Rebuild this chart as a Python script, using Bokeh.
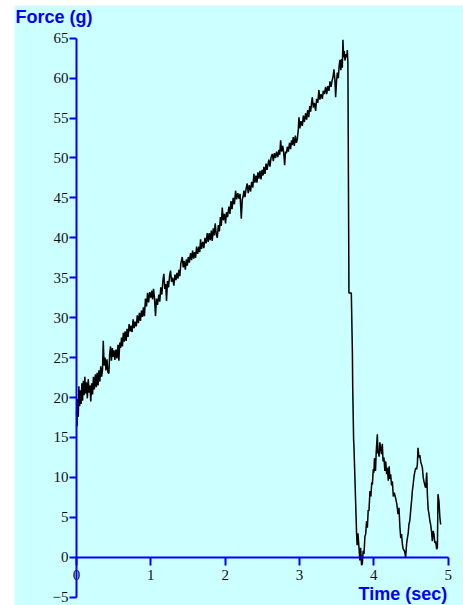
from bokeh.plotting import figure
from bokeh.models import Range1d, SingleIntervalTicker, Label
from bokeh.embed import file_html
from bokeh.resources import INLINE

# Force trace: time in seconds, force in grams
time_s = [
    0.000, 0.008, 0.016, 0.024, 0.032, 0.042, 0.052, 0.062, 0.072, 0.082,
    0.092, 0.102, 0.112, 0.122, 0.134, 0.146, 0.158, 0.170, 0.182, 0.192,
    0.204, 0.216, 0.228, 0.240, 0.254, 0.266, 0.278, 0.290, 0.302, 0.314,
    0.326, 0.338, 0.350, 0.360, 0.372, 0.384, 0.396, 0.410, 0.422, 0.436,
    0.446, 0.458, 0.470, 0.482, 0.494, 0.504, 0.516, 0.530, 0.544, 0.558,
    0.570, 0.582, 0.594, 0.606, 0.618, 0.630, 0.642, 0.654, 0.668, 0.680,
    0.694, 0.708, 0.720, 0.734, 0.748, 0.762, 0.776, 0.790, 0.804, 0.818,
    0.832, 0.846, 0.860, 0.874, 0.888, 0.900, 0.914, 0.928, 0.942, 0.956,
    0.970, 0.984, 1.000, 1.012, 1.024, 1.036, 1.048, 1.063, 1.076, 1.090,
    1.108, 1.120, 1.134, 1.148, 1.162, 1.175, 1.188, 1.200, 1.211, 1.224,
    1.238, 1.252, 1.265, 1.278, 1.292, 1.310, 1.324, 1.338, 1.352, 1.366,
    1.377, 1.390, 1.404, 1.423, 1.436, 1.450, 1.464, 1.478, 1.490, 1.504,
    1.518, 1.534, 1.548, 1.562, 1.576, 1.590, 1.602, 1.616, 1.630, 1.646,
    1.658, 1.669, 1.682, 1.698, 1.713, 1.728, 1.744, 1.759, 1.772, 1.786,
    1.800, 1.814, 1.826, 1.840, 1.852, 1.866, 1.880, 1.894, 1.908, 1.922,
    1.936, 1.948, 1.961, 1.974, 1.990, 2.005, 2.018, 2.032, 2.050, 2.064,
    2.078, 2.092, 2.108, 2.124, 2.140, 2.154, 2.170, 2.184, 2.200, 2.217,
    2.230, 2.242, 2.252, 2.266, 2.282, 2.297, 2.310, 2.326, 2.342, 2.356,
    2.372, 2.386, 2.400, 2.414, 2.428, 2.440, 2.454, 2.468, 2.482, 2.496,
    2.510, 2.521, 2.536, 2.550, 2.564, 2.578, 2.588, 2.602, 2.618, 2.634,
    2.648, 2.662, 2.678, 2.692, 2.708, 2.723, 2.734, 2.746, 2.760, 2.774,
    2.788, 2.800, 2.812, 2.824, 2.836, 2.850, 2.866, 2.880, 2.893, 2.903,
    2.916, 2.930, 2.944, 2.958, 2.970, 2.984, 2.992, 3.004, 3.020, 3.038,
    3.052, 3.066, 3.082, 3.096, 3.110, 3.124, 3.138, 3.150, 3.162, 3.172,
    3.186, 3.200, 3.217, 3.230, 3.246, 3.261, 3.274, 3.290, 3.307, 3.320,
    3.336, 3.351, 3.366, 3.380, 3.396, 3.410, 3.424, 3.441, 3.452, 3.463,
    3.476, 3.486, 3.498, 3.509, 3.522, 3.534, 3.544, 3.556, 3.566, 3.576,
    3.584, 3.594, 3.602, 3.612, 3.624, 3.636, 3.643, 3.651, 3.655, 3.661,
    3.665, 3.697, 3.711, 3.716, 3.728, 3.732, 3.768, 3.775, 3.786, 3.800,
    3.812, 3.822, 3.835, 3.845, 3.856, 3.867, 3.880, 3.890, 3.902, 3.913,
    3.924, 3.934, 3.948, 3.960, 3.972, 3.980, 3.992, 4.001, 4.008, 4.015,
    4.022, 4.032, 4.047, 4.054, 4.060, 4.070, 4.080, 4.091, 4.102, 4.114,
    4.124, 4.136, 4.148, 4.160, 4.172, 4.182, 4.194, 4.206, 4.216, 4.226,
    4.238, 4.249, 4.262, 4.275, 4.293, 4.310, 4.325, 4.338, 4.351, 4.362,
    4.373, 4.384, 4.396, 4.414, 4.428, 4.440, 4.451, 4.462, 4.472, 4.484,
    4.495, 4.506, 4.518, 4.530, 4.540, 4.549, 4.563, 4.575, 4.585, 4.594,
    4.607, 4.618, 4.630, 4.642, 4.653, 4.664, 4.674, 4.686, 4.697, 4.711,
    4.720, 4.731, 4.742, 4.753, 4.764, 4.776, 4.787, 4.798, 4.809, 4.820,
    4.832, 4.844, 4.855, 4.863, 4.876, 4.888, 4.899,
]

force_g = [
    18.3, 16.4, 19.8, 17.6, 21.4, 18.9, 20.9, 19.2, 21.8, 19.6,
    22.1, 20.3, 22.6, 20.5, 21.9, 19.9, 22.3, 20.6, 21.5, 19.5,
    21.8, 20.4, 22.6, 21.0, 22.9, 21.3, 23.1, 21.5, 23.4, 22.0,
    23.9, 22.6, 23.5, 27.1, 24.0, 25.0, 23.4, 24.8, 23.2, 23.0,
    25.4, 26.4, 24.6, 26.2, 25.1, 25.9, 24.7, 26.0, 24.9, 26.6,
    24.6, 26.9, 26.2, 27.5, 26.4, 28.1, 27.0, 28.3, 27.1, 28.6,
    27.6, 29.2, 28.3, 29.0, 28.2, 29.8, 28.7, 29.5, 28.9, 30.3,
    29.3, 30.6, 29.6, 30.9, 30.1, 31.3, 30.2, 32.4, 31.4, 33.1,
    31.9, 33.2, 32.5, 33.4, 32.3, 33.6, 32.6, 30.2, 32.4, 31.6,
    32.9, 32.0, 33.8, 32.9, 34.6, 35.5, 33.6, 34.2, 32.1, 34.6,
    33.8, 35.2, 35.9, 34.5, 35.0, 34.0, 35.4, 34.7, 35.6, 34.9,
    36.0, 35.2, 36.8, 37.6, 36.3, 37.1, 36.0, 37.3, 36.5, 37.6,
    36.9, 38.1, 37.2, 38.4, 37.4, 38.2, 37.5, 38.9, 38.0, 38.9,
    38.2, 39.8, 38.6, 39.5, 38.7, 40.0, 39.3, 40.6, 39.5, 40.6,
    39.7, 40.9, 39.6, 41.2, 40.3, 41.8, 40.4, 40.0, 41.6, 40.8,
    42.6, 41.5, 43.8, 42.2, 43.0, 41.8, 43.2, 42.6, 43.9, 43.0,
    44.6, 43.6, 45.0, 44.2, 45.9, 44.8, 45.6, 44.9, 45.5, 42.4,
    44.8, 45.2, 45.9, 45.1, 46.2, 46.8, 45.6, 46.6, 45.8, 47.0,
    46.3, 48.0, 46.9, 47.8, 46.9, 48.2, 47.4, 48.4, 47.3, 48.5,
    47.8, 48.9, 48.0, 49.3, 48.5, 49.3, 49.8, 48.9, 50.1, 50.5,
    49.6, 50.6, 50.0, 50.8, 50.1, 51.0, 50.4, 52.2, 50.8, 51.5,
    50.6, 49.1, 50.8, 50.6, 51.4, 50.8, 51.9, 51.1, 52.2, 51.6,
    52.6, 51.5, 52.8, 51.9, 52.3, 53.6, 55.1, 53.7, 54.6, 54.0,
    55.3, 54.5, 55.6, 54.8, 56.0, 55.1, 56.5, 55.8, 56.9, 57.6,
    56.3, 56.9, 55.9, 57.4, 56.9, 58.5, 57.3, 58.0, 57.4, 58.4,
    58.0, 58.9, 58.0, 59.0, 58.4, 59.6, 58.9, 59.8, 60.2, 61.1,
    59.8, 57.6, 59.6, 60.7, 60.0, 61.6, 62.3, 61.0, 62.4, 61.3,
    64.8, 62.6, 63.4, 62.2, 63.0, 62.6, 63.5, 61.9, 53.5, 41.3,
    33.1, 33.1, 25.8, 21.1, 14.6, 14.0, 2.9, 1.5, 3.0, 1.2,
    -0.4, 1.2, -1.0, -0.8, 0.8, 0.4, 2.6, 2.9, 4.5, 3.7,
    5.9, 5.8, 8.3, 7.6, 9.4, 9.1, 11.0, 10.6, 12.4, 12.0,
    10.8, 13.2, 15.4, 13.0, 13.3, 12.6, 14.4, 13.7, 12.9, 14.2,
    12.0, 12.5, 10.8, 12.0, 10.4, 11.2, 9.6, 11.4, 9.8, 10.4,
    9.0, 9.5, 7.6, 8.1, 7.4, 6.6, 5.4, 6.2, 3.7, 2.4,
    2.9, 1.6, 1.0, 0.75, 0.0, 1.6, 2.4, 3.0, 4.1, 4.6,
    5.8, 6.9, 8.3, 9.2, 10.1, 10.6, 11.2, 11.0, 11.6, 13.7,
    12.5, 12.8, 12.0, 11.6, 11.2, 10.0, 9.5, 9.0, 8.7, 10.6,
    7.9, 6.0, 5.4, 4.6, 4.1, 3.2, 2.0, 3.3, 2.9, 1.8,
    2.0, 1.0, 1.2, 7.9, 7.0, 5.0, 4.1,
]

x_title = "Time (sec)"
y_title = "Force (g)"

BG = "#ccffff"
AXIS_BLUE = "#0000ff"
TICK_FONT = "Liberation Serif"
TITLE_FONT = "Liberation Sans"

# The frame fills the whole canvas; both axes sit inside it, crossing at the origin.
p = figure(
    width=449, height=600,
    x_range=Range1d(-0.834, 5.206), y_range=Range1d(-6.04, 69.09),
    output_backend="svg", toolbar_location=None,
    background_fill_color=BG, border_fill_color=BG,
    outline_line_color=None,
    min_border_left=0, min_border_right=0,
    min_border_top=0, min_border_bottom=0,
    margin=(5, 0, 0, 14),
)
p.grid.visible = False

p.line(time_s, force_g, line_color="black", line_width=1.5)

for ax in (p.xaxis[0], p.yaxis[0]):
    ax.axis_line_color = AXIS_BLUE
    ax.axis_line_width = 2
    ax.major_tick_line_color = AXIS_BLUE
    ax.major_tick_line_width = 2
    ax.major_tick_in = 0
    ax.minor_tick_line_color = None
    ax.major_label_text_font = TICK_FONT
    ax.major_label_text_font_size = "15px"
    ax.major_label_text_color = "#111111"

xa = p.xaxis[0]
xa.ticker = SingleIntervalTicker(interval=1)
xa.fixed_location = 0
xa.bounds = (0, 5)
xa.major_tick_out = 8
xa.major_label_standoff = 5

ya = p.yaxis[0]
ya.ticker = SingleIntervalTicker(interval=5)
ya.fixed_location = 0
ya.bounds = (-5, 65)
ya.major_tick_out = 7
ya.major_label_standoff = 1

p.add_layout(Label(
    x=-0.82, y=67.6, text=y_title, text_align="left", text_baseline="middle",
    text_font=TITLE_FONT, text_font_style="bold", text_font_size="18px",
    text_color=AXIS_BLUE,
))
p.add_layout(Label(
    x=4.987, y=-4.62, text=x_title, text_align="right", text_baseline="middle",
    text_font=TITLE_FONT, text_font_style="bold", text_font_size="18px",
    text_color=AXIS_BLUE,
))

open("out.html", "w").write(file_html(p, INLINE))
